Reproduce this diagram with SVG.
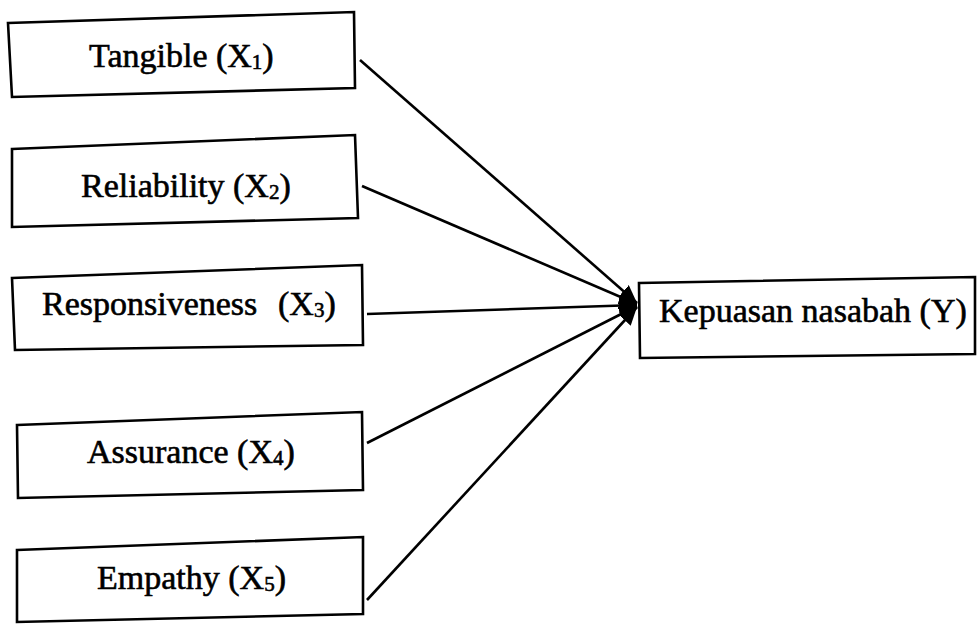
<svg xmlns="http://www.w3.org/2000/svg" width="977" height="624" viewBox="0 0 977 624">
<style>
.box{fill:#fff;stroke:#000;stroke-width:2.6;stroke-linejoin:miter}
.lbl{font-family:"Liberation Serif","Times New Roman",serif;font-size:34px;fill:#000;stroke:#000;stroke-width:0.6}
.sub{font-size:21px}
.conn{stroke:#000;stroke-width:2.6;fill:none}
</style>
<defs>
<marker id="arr" markerUnits="userSpaceOnUse" markerWidth="20" markerHeight="16" refX="18" refY="8" orient="auto">
<path d="M0,0 L18,8 L0,16 Z" fill="#000"/>
</marker>
</defs>
<rect width="977" height="624" fill="#fff"/>
<g id="connectors">
<line class="conn" x1="360" y1="60" x2="637" y2="303" marker-end="url(#arr)"/>
<line class="conn" x1="362" y1="186" x2="637" y2="304" marker-end="url(#arr)"/>
<line class="conn" x1="367" y1="314" x2="637" y2="305" marker-end="url(#arr)"/>
<line class="conn" x1="367" y1="443" x2="637" y2="306" marker-end="url(#arr)"/>
<line class="conn" x1="367" y1="600" x2="637" y2="307" marker-end="url(#arr)"/>
</g>
<g id="node-x1">
<polygon class="box" points="8,23 354,12 355,88 12,97"/>
<text class="lbl" x="89" y="67">Tangible (X<tspan class="sub" dy="2">1</tspan><tspan dy="-2">)</tspan></text>
</g>
<g id="node-x2">
<polygon class="box" points="12,149 355,135 358,218 12,227"/>
<text class="lbl" x="81" y="197">Reliability (X<tspan class="sub" dy="2">2</tspan><tspan dy="-2">)</tspan></text>
</g>
<g id="node-x3">
<polygon class="box" points="12,278 362,265 363,345 15,350"/>
<text class="lbl" x="42" y="315">Responsiveness<tspan x="278">(X</tspan><tspan class="sub" dy="2">3</tspan><tspan dy="-2">)</tspan></text>
</g>
<g id="node-x4">
<polygon class="box" points="17,425 362,412 363,490 18,498"/>
<text class="lbl" x="87" y="463">Assurance (X<tspan class="sub" dy="2">4</tspan><tspan dy="-2">)</tspan></text>
</g>
<g id="node-x5">
<polygon class="box" points="17,550 363,537 363,614 17,622"/>
<text class="lbl" x="97" y="589">Empathy (X<tspan class="sub" dy="2">5</tspan><tspan dy="-2">)</tspan></text>
</g>
<g id="node-y">
<polygon class="box" points="639,283 975,277 975,354 640,358"/>
<text class="lbl" x="659" y="322">Kepuasan nasabah (Y)</text>
</g>
</svg>
